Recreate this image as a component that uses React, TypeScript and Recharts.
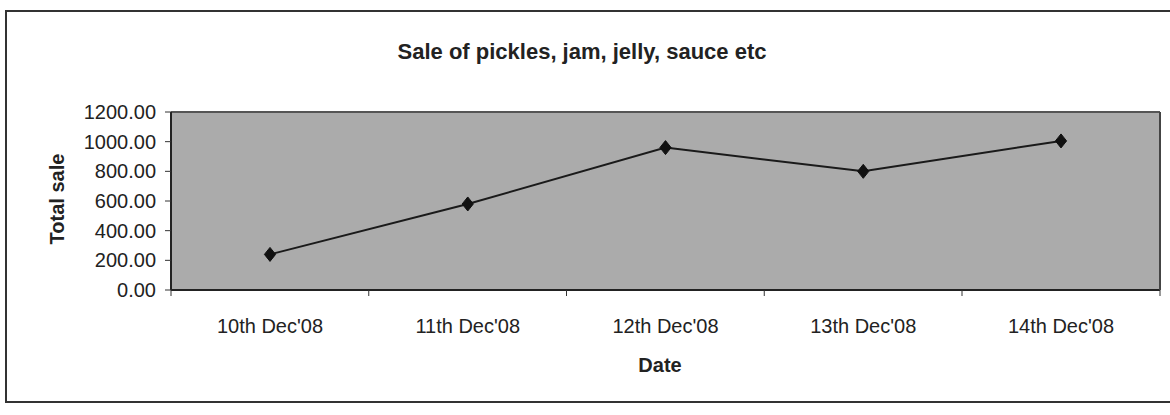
import React from 'react';
import { LineChart, Line, XAxis, YAxis, CartesianGrid, ReferenceLine } from 'recharts';

const dates = ["10th Dec'08", "11th Dec'08", "12th Dec'08", "13th Dec'08", "14th Dec'08"];
const totalSale = [240, 580, 960, 800, 1005];
const yTicks = [0, 200, 400, 600, 800, 1000, 1200];
const yMax = 1200;

const data = dates.map((d, i) => ({ date: d, sale: totalSale[i] }));

const FONT = '"Liberation Sans", Arial, sans-serif';
const HALF_STEP = 99;

const Diamond = (props: any) => {
  const { cx, cy, index } = props;
  if (cx == null || cy == null) return null;
  const r = 7;
  return (
    <polygon
      key={`d-${index}`}
      points={`${cx},${cy - r} ${cx + r * 0.8},${cy} ${cx},${cy + r} ${cx - r * 0.8},${cy}`}
      fill="#111"
      stroke="#111"
    />
  );
};

const XTick = (props: any) => {
  const { x, y, payload, index } = props;
  const last = index === dates.length - 1;
  return (
    <g>
      <line x1={x - HALF_STEP} y1={y - 8} x2={x - HALF_STEP} y2={y - 2} stroke="#333" />
      {last && <line x1={x + HALF_STEP} y1={y - 8} x2={x + HALF_STEP} y2={y - 2} stroke="#333" />}
      <text x={x} y={y + 35} textAnchor="middle" fontFamily={FONT} fontSize={20} fill="#222">
        {payload.value}
      </text>
    </g>
  );
};

export default function App() {
  return (
    <div style={{ position: 'absolute', left: 0, top: 0, width: 1170, height: 415, background: '#fff', overflow: 'hidden' }}>
      <div style={{ position: 'absolute', left: 5, top: 10, width: 1165, height: 393, borderTop: '2px solid #333', borderLeft: '2px solid #333', borderBottom: '2px solid #333', boxSizing: 'border-box' }} />
      <div style={{ position: 'absolute', left: 0, top: 39, width: 1164, textAlign: 'center', fontFamily: FONT, fontWeight: 'bold', fontSize: 22, color: '#222' }}>
        Sale of pickles, jam, jelly, sauce etc
      </div>
      <div style={{ position: 'absolute', left: 57, top: 199, transform: 'translate(-50%, -50%) rotate(-90deg)', whiteSpace: 'nowrap', fontFamily: FONT, fontWeight: 'bold', fontSize: 20, color: '#222' }}>
        Total sale
      </div>
      <div style={{ position: 'absolute', left: 660, top: 365, transform: 'translate(-50%, -50%)', fontFamily: FONT, fontWeight: 'bold', fontSize: 20, color: '#222' }}>
        Date
      </div>
      <div style={{ position: 'absolute', left: 0, top: 0 }}>
        <LineChart width={1170} height={415} data={data} margin={{ top: 112, right: 9, bottom: 95, left: 91 }}>
          <CartesianGrid horizontal={false} vertical={false} fill="#ababab" />
          <XAxis
            dataKey="date"
            padding={{ left: HALF_STEP, right: HALF_STEP }}
            tick={<XTick />}
            tickLine={false}
            axisLine={{ stroke: '#222', strokeWidth: 2 }}
            height={30}
            interval={0}
          />
          <YAxis
            domain={[0, yMax]}
            ticks={yTicks}
            width={80}
            interval={0}
            tickFormatter={(v: number) => v.toFixed(2)}
            tick={{ fontFamily: FONT, fontSize: 20, fill: '#222' }}
            tickLine={{ stroke: '#333' }}
            tickSize={6}
            tickMargin={9}
            axisLine={{ stroke: '#222', strokeWidth: 2 }}
          />
          <YAxis yAxisId="right" orientation="right" width={1} tick={false} tickLine={false} domain={[0, yMax]} axisLine={{ stroke: '#444', strokeWidth: 2 }} />
          <ReferenceLine y={yMax} stroke="#555" strokeWidth={2} />
          <Line
            yAxisId="right"
            type="linear"
            dataKey="sale"
            stroke="none"
            dot={false}
            activeDot={false}
            legendType="none"
            isAnimationActive={false}
          />
          <Line
            type="linear"
            dataKey="sale"
            stroke="#1a1a1a"
            strokeWidth={2}
            dot={<Diamond />}
            activeDot={false}
            isAnimationActive={false}
          />
        </LineChart>
      </div>
    </div>
  );
}
